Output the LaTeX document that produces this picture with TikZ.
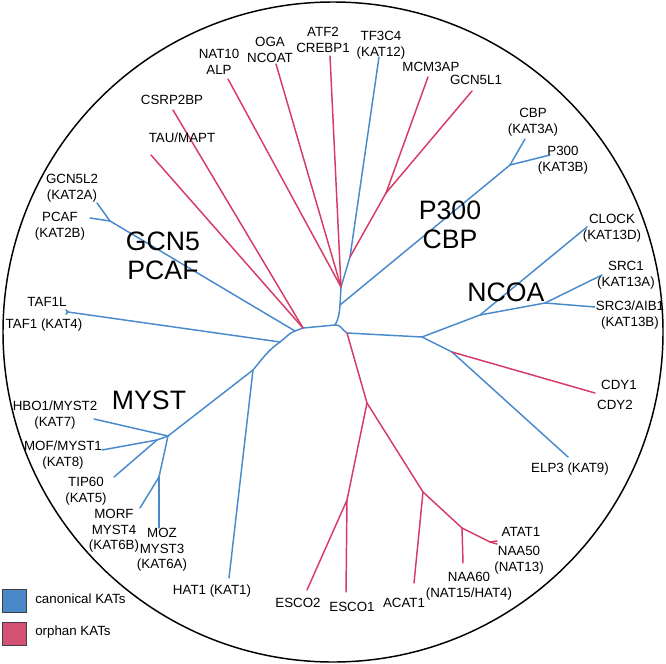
\documentclass[tikz,border=0pt]{standalone}
\usepackage{fontspec}
\setmainfont{Liberation Sans}
\definecolor{canonc}{RGB}{72,138,204}
\definecolor{orphc}{RGB}{214,58,102}
\definecolor{canonf}{RGB}{74,137,200}
\definecolor{orphf}{RGB}{212,82,116}
\begin{document}
\begin{tikzpicture}[x=0.75pt,y=-0.75pt,
  canon/.style={draw=canonc, line width=1.1pt, line join=round, line cap=round},
  orph/.style={draw=orphc, line width=1.1pt, line join=round, line cap=round},
  lbl/.style={font=\fontsize{10}{11.6}\selectfont, align=center, inner sep=0pt},
  big/.style={font=\fontsize{20}{22}\selectfont, align=center, inner sep=0pt},
  legbox/.style={draw=black!75, line width=0.8pt, minimum width=18pt, minimum height=17pt, inner sep=0pt}
]
\useasboundingbox (0,0) rectangle (666,663);
\draw[line width=1.1pt] (333,332) circle (330);

% junctions
\coordinate (R) at (335,325);
\coordinate (T1) at (340,305);
\coordinate (J2) at (341,287);
\coordinate (Jtop) at (350,257);
\coordinate (JMG) at (386,193);
\coordinate (JP) at (510,165);
\coordinate (L1) at (303,328);
\coordinate (L2) at (295,331);
\coordinate (L3) at (280,342);
\coordinate (L4) at (253,370);
\coordinate (JG) at (110,221);
\coordinate (JM) at (168,436);
\coordinate (JMT) at (157,440);
\coordinate (JMM) at (159,477);
\coordinate (RR) at (347,333);
\coordinate (JN) at (422,337);
\coordinate (JN2) at (480,315);
\coordinate (JS) at (545,303);
\coordinate (JCE) at (452,352);
\coordinate (JB) at (367,403);
\coordinate (JE) at (347,500);
\coordinate (JA) at (423,492);
\coordinate (JNA) at (462,528);

% leaf ends
\coordinate (eTF) at (379,57);
\coordinate (eMCM) at (428,77);
\coordinate (eGL1) at (472,91);
\coordinate (eATF) at (330,56);
\coordinate (eOGA) at (276,64);
\coordinate (eNAT) at (228,79);
\coordinate (eCSR) at (173,110);
\coordinate (eTAU) at (151,155);
\coordinate (eCBP) at (525,139);
\coordinate (eP300) at (550,155);
\coordinate (eGL2) at (97,203);
\coordinate (ePCAF) at (90,218);
\coordinate (eTAF) at (68,312);
\coordinate (eTAFa) at (66,310);
\coordinate (eTAFb) at (66,314);
\coordinate (eHAT) at (229,578);
\coordinate (eHBO) at (94,419);
\coordinate (eMOF) at (102,450);
\coordinate (eTIP) at (114,477);
\coordinate (eMORF) at (140,508);
\coordinate (eMOZ) at (159,528);
\coordinate (eCLK) at (587,227);
\coordinate (eSRC1) at (602,275);
\coordinate (eSRC3) at (595,307);
\coordinate (eCDY) at (595,393);
\coordinate (eELP) at (568,457);
\coordinate (eES2) at (307,590);
\coordinate (eES1) at (346,592);
\coordinate (eACAT) at (414,583);
\coordinate (eNAA60) at (463,563);
\coordinate (eAT) at (490,542);
\coordinate (eATa) at (497,541);
\coordinate (eATb) at (497,544);

% canonical branches
\draw[canon] (L4) -- (eHAT);
\draw[canon] (L4) -- (JM) -- (eHBO);
\draw[canon] (JM) -- (JMT) -- (eMOF);
\draw[canon] (JMT) -- (eTIP);
\draw[canon] (JM) -- (JMM) -- (eMORF);
\draw[canon] (JMM) -- (eMOZ);
\draw[canon] (L3) -- (eTAF) -- (eTAFa);
\draw[canon] (eTAF) -- (eTAFb);
\draw[canon] (L2) -- (JG) -- (eGL2);
\draw[canon] (JG) -- (ePCAF);
\draw[canon] (L4) to[out=50,in=215] (L3) to[out=35,in=200] (L2) -- (L1) -- (R);
\draw[canon] (R) to[out=10,in=150] (RR) -- (JN) -- (JN2) -- (eCLK);
\draw[canon] (JN2) -- (JS) -- (eSRC1);
\draw[canon] (JS) -- (eSRC3);
\draw[canon] (JN) -- (JCE) -- (eELP);
\draw[canon] (R) to[out=60,in=-95] (T1) -- (J2) -- (Jtop) -- (eTF);
\draw[canon] (T1) -- (JP) -- (eCBP);
\draw[canon] (JP) -- (eP300);

% orphan branches
\draw[orph] (JCE) -- (eCDY);
\draw[orph] (RR) -- (JB) -- (JE) -- (eES2);
\draw[orph] (JE) -- (eES1);
\draw[orph] (JB) -- (JA) -- (eACAT);
\draw[orph] (JA) -- (JNA) -- (eNAA60);
\draw[orph] (JNA) -- (eAT) -- (eATa);
\draw[orph] (eAT) -- (eATb);
\draw[orph] (Jtop) -- (JMG) -- (eMCM);
\draw[orph] (JMG) -- (eGL1);
\draw[orph] (J2) -- (eATF);
\draw[orph] (J2) -- (eOGA);
\draw[orph] (J2) -- (eNAT);
\draw[orph] (L1) -- (eCSR);
\draw[orph] (L1) -- (eTAU);

% big labels
\node[big] (bGCN) at (163,256) {GCN5\\PCAF};
\node[big] (bMYST) at (149,400) {MYST};
\node[big] (bP300) at (450,225) {P300\\CBP};
\node[big] (bNCOA) at (506,292) {NCOA};

% leaf labels
\node[lbl] (tNAT) at (219,62) {NAT10\\ALP};
\node[lbl] (tOGA) at (270,50) {OGA\\NCOAT};
\node[lbl] (tATF) at (323,40) {ATF2\\CREBP1};
\node[lbl] (tTF) at (381,45) {TF3C4\\(KAT12)};
\node[lbl] (tMCM) at (431,67) {MCM3AP};
\node[lbl] (tGL1) at (476,80) {GCN5L1};
\node[lbl] (tCSR) at (172,100) {CSRP2BP};
\node[lbl] (tTAU) at (182,138) {TAU/MAPT};
\node[lbl] (tCBP) at (533,122) {CBP\\(KAT3A)};
\node[lbl] (tP300) at (563,160) {P300\\(KAT3B)};
\node[lbl] (tCLK) at (612,228) {CLOCK\\(KAT13D)};
\node[lbl] (tSRC1) at (626,275) {SRC1\\(KAT13A)};
\node[lbl] (tSRC3) at (630,315) {SRC3/AIB1\\(KAT13B)};
\node[lbl] (tCDY1) at (619,385) {CDY1};
\node[lbl] (tCDY2) at (615,405) {CDY2};
\node[lbl] (tELP) at (570,469) {ELP3 (KAT9)};
\node[lbl] (tATAT) at (521,532) {ATAT1};
\node[lbl] (tNAA50) at (519,560) {NAA50\\(NAT13)};
\node[lbl] (tNAA60) at (469,586) {NAA60\\(NAT15/HAT4)};
\node[lbl] (tACAT) at (404,603) {ACAT1};
\node[lbl] (tES1) at (352,607) {ESCO1};
\node[lbl] (tES2) at (298,603) {ESCO2};
\node[lbl] (tHAT) at (212,591) {HAT1 (KAT1)};
\node[lbl] (tMOZ) at (162,550) {MOZ\\MYST3\\(KAT6A)};
\node[lbl] (tMORF) at (114,531) {MORF\\MYST4\\(KAT6B)};
\node[lbl] (tTIP) at (86,491) {TIP60\\(KAT5)};
\node[lbl] (tMOF) at (63,455) {MOF/MYST1\\(KAT8)};
\node[lbl] (tHBO) at (55,415) {HBO1/MYST2\\(KAT7)};
\node[lbl] (tTAFL) at (47,302) {TAF1L};
\node[lbl] (tTAF) at (44,325) {TAF1 (KAT4)};
\node[lbl] (tGL2) at (72,188) {GCN5L2\\(KAT2A)};
\node[lbl] (tPCAF) at (60,226) {PCAF\\(KAT2B)};

% legend
\node[legbox, fill=canonf, anchor=north west] (kb) at (2,589) {};
\node[legbox, fill=orphf, anchor=north west] (ko) at (2,622) {};
\node[lbl, anchor=west] (kbt) at (35,599) {canonical KATs};
\node[lbl, anchor=west] (kot) at (35,632) {orphan KATs};
\end{tikzpicture}
\end{document}
